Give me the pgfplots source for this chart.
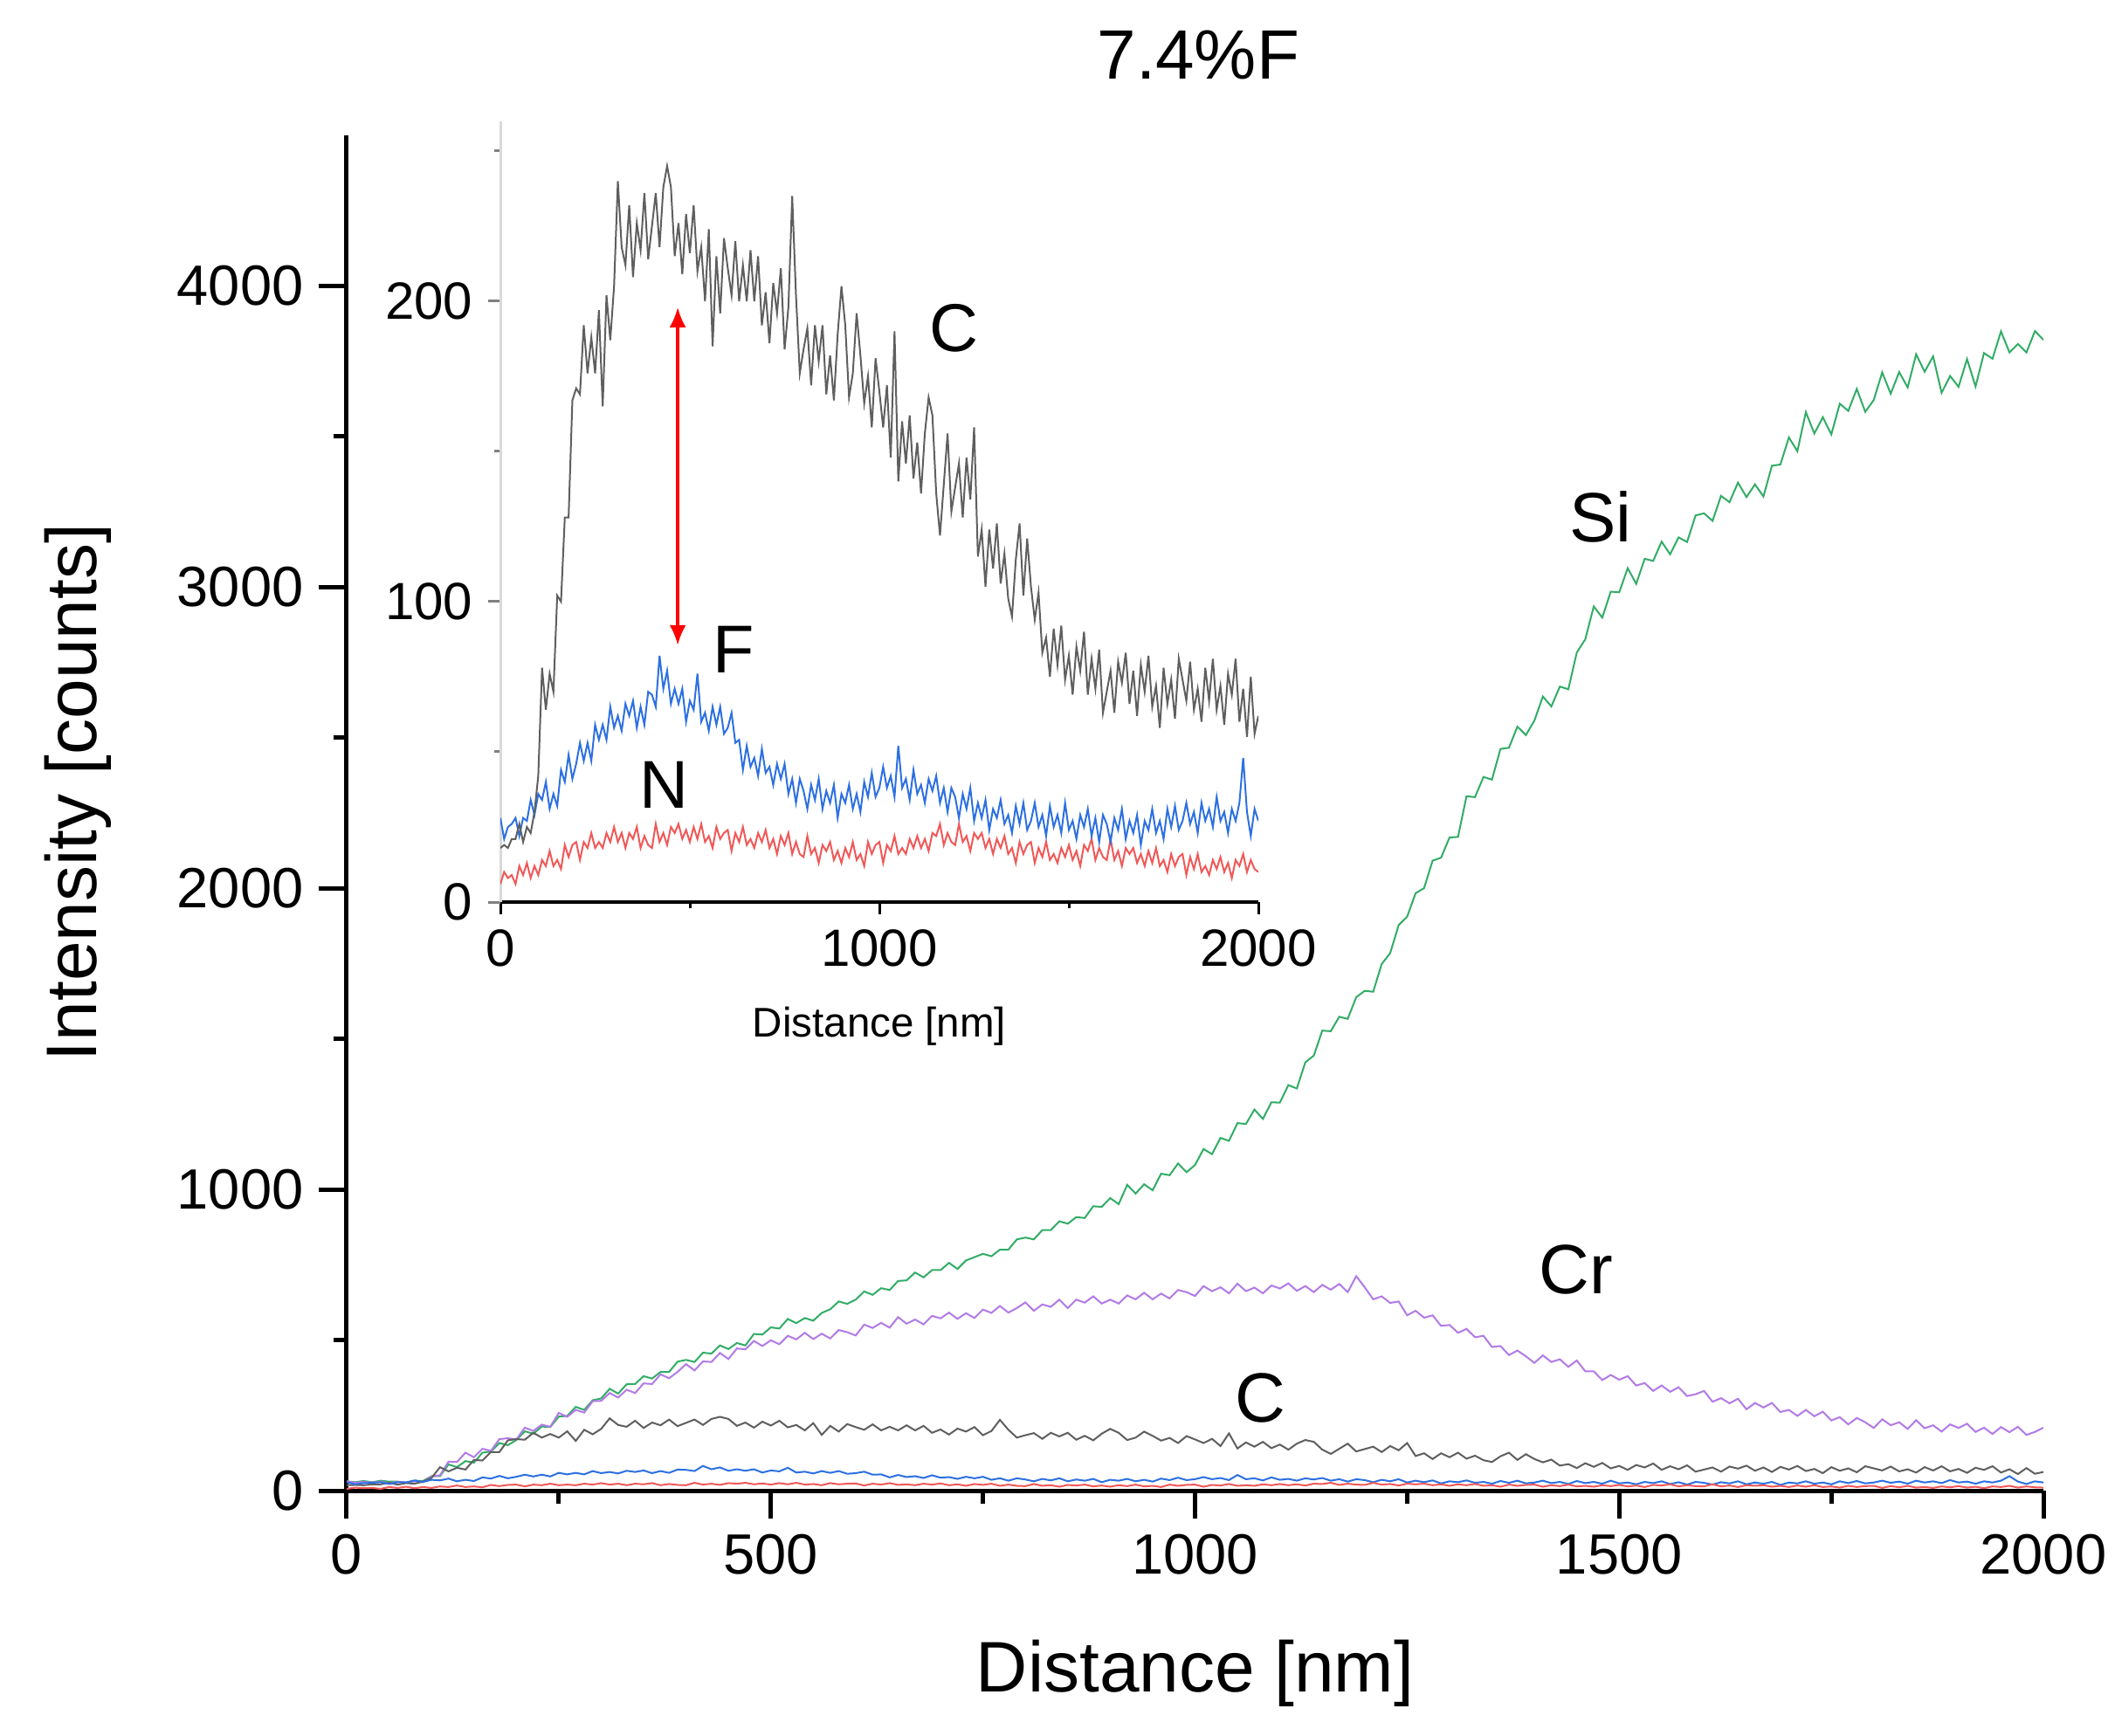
\documentclass[border=0pt]{standalone}
\usepackage{fontspec}
\setmainfont{Liberation Sans}
\usepackage{pgfplots}
\pgfplotsset{compat=1.18}
\usepackage{pgfplotstable}
\usetikzlibrary{arrows.meta}

\definecolor{siG}{RGB}{50,172,102}
\definecolor{crP}{RGB}{178,122,230}
\definecolor{cG}{RGB}{95,95,95}
\definecolor{fB}{RGB}{45,112,225}
\definecolor{nR}{RGB}{240,88,88}

\pgfplotstableread{
x Si Cr C F N
0 31 31 18 28 6
10 28 26 19 21 10
20 32 29 18 25 8
30 28 27 21 26 9
40 33 30 21 28 6
50 30 25 26 22 12
60 30 29 20 28 9
70 27 27 25 27 13
80 33 31 23 34 8
90 32 28 30 29 12
100 48 47 42 36 9
110 48 51 78 34 14
120 87 96 64 40 12
130 78 95 76 31 17
140 98 126 70 36 12
150 93 111 102 32 14
160 126 139 100 44 11
170 130 132 128 40 19
180 158 171 128 49 15
190 151 174 167 41 19
200 168 170 171 46 20
210 197 209 169 53 14
220 189 198 192 47 20
230 213 219 176 53 18
240 211 212 188 47 23
250 246 258 176 59 18
260 248 245 197 54 20
270 278 268 165 59 18
280 268 259 202 54 23
290 300 297 187 65 20
300 306 298 205 58 25
310 338 324 240 62 20
320 322 309 218 57 23
330 353 335 212 66 18
340 354 324 232 62 23
350 380 356 208 67 21
360 372 354 226 58 25
370 394 386 217 65 18
380 394 373 236 59 22
390 428 394 214 70 19
400 434 420 225 69 18
410 427 399 236 65 26
420 458 429 218 82 20
430 455 427 238 71 23
440 482 457 245 77 19
450 470 437 238 66 25
460 490 472 215 71 23
470 482 469 226 66 26
480 520 497 209 71 21
490 518 480 229 60 24
500 542 499 216 67 20
510 538 486 232 64 25
520 570 514 210 76 21
530 556 502 218 60 26
540 573 524 200 63 20
550 564 503 224 57 22
560 590 521 185 65 18
570 602 505 215 59 25
580 628 533 196 65 21
590 620 526 221 56 23
600 634 515 211 58 24
610 661 551 202 63 17
620 650 540 220 53 23
630 672 557 200 54 20
640 666 541 212 44 25
650 696 576 200 52 19
660 698 554 217 45 21
670 724 568 200 48 18
680 708 552 215 42 23
690 732 580 192 51 20
700 732 572 203 43 24
710 756 591 186 45 18
720 736 570 206 39 21
730 764 589 196 46 16
740 775 573 211 41 22
750 786 601 184 46 19
760 778 590 198 36 23
770 800 613 235 41 16
780 800 591 202 33 20
790 834 606 176 41 16
800 840 625 184 37 15
810 834 597 191 31 22
820 865 618 172 39 16
830 865 610 192 34 18
840 894 634 180 41 13
850 886 606 192 31 19
860 908 634 169 37 17
870 905 624 182 33 20
880 944 645 167 39 14
890 942 621 189 28 17
900 971 634 205 36 13
910 951 621 192 33 18
920 1015 648 168 39 15
930 986 635 176 31 20
940 1017 657 196 36 14
950 997 635 182 30 16
960 1052 654 166 40 12
970 1047 638 175 35 20
980 1086 666 158 43 16
990 1057 659 181 35 19
1000 1081 646 170 38 20
1010 1134 679 158 45 13
1020 1117 662 172 38 19
1030 1171 675 148 42 17
1040 1161 655 190 35 22
1050 1220 687 140 52 16
1060 1217 662 160 38 18
1070 1265 674 146 41 16
1080 1234 655 162 34 21
1090 1289 681 141 44 18
1100 1288 671 153 36 22
1110 1346 688 136 39 18
1120 1335 663 156 33 21
1130 1422 679 168 41 17
1140 1444 659 162 37 23
1150 1527 683 136 42 22
1160 1525 667 122 33 26
1170 1573 686 139 38 19
1180 1566 659 156 30 23
1190 1638 712 130 38 20
1200 1659 675 138 35 19
1210 1656 635 146 28 26
1220 1748 645 128 36 20
1230 1784 623 148 31 22
1240 1877 628 134 38 17
1250 1905 582 158 27 23
1260 1983 597 115 33 21
1270 2000 574 124 28 23
1280 2091 582 105 34 18
1290 2101 547 124 24 21
1300 2168 550 111 31 16
1310 2170 524 126 28 21
1320 2305 537 106 34 18
1330 2302 509 116 26 22
1340 2369 514 101 29 16
1350 2360 477 95 23 18
1360 2462 480 114 32 13
1370 2466 450 126 26 20
1380 2536 465 102 33 16
1390 2508 446 121 24 19
1400 2556 424 105 27 20
1410 2636 449 94 33 13
1420 2603 427 103 25 18
1430 2669 436 83 29 15
1440 2660 411 88 22 20
1450 2782 432 75 32 14
1460 2826 396 91 25 16
1470 2935 396 79 29 13
1480 2898 367 92 23 18
1490 2984 384 74 33 15
1500 2982 368 82 24 19
1510 3062 380 69 27 14
1520 3010 349 85 21 17
1530 3093 357 77 29 12
1540 3086 331 90 25 19
1550 3150 349 69 31 17
1560 3108 328 81 22 21
1570 3164 343 71 28 14
1580 3149 314 84 20 18
1590 3237 320 63 29 15
1600 3244 331 70 26 14
1610 3219 295 77 20 21
1620 3302 307 63 28 14
1630 3281 290 80 24 17
1640 3346 305 73 31 12
1650 3298 270 83 21 18
1660 3340 291 66 27 16
1670 3300 276 77 23 18
1680 3402 291 62 29 13
1690 3406 261 79 19 16
1700 3496 268 70 27 12
1710 3450 248 82 24 17
1720 3580 268 65 31 13
1730 3509 247 72 23 18
1740 3563 262 58 27 12
1750 3506 233 78 21 14
1760 3608 244 66 31 10
1770 3584 220 74 25 16
1780 3657 241 61 32 12
1790 3581 227 81 24 15
1800 3620 208 74 27 16
1810 3712 237 67 33 9
1820 3641 217 80 26 15
1830 3713 227 64 30 11
1840 3662 205 71 23 16
1850 3772 234 60 33 10
1860 3714 207 78 27 12
1870 3765 217 67 31 9
1880 3644 196 81 25 14
1890 3700 220 64 35 11
1900 3664 208 72 27 15
1910 3756 222 59 30 10
1920 3665 195 76 23 13
1930 3776 209 69 31 8
1940 3757 188 81 27 14
1950 3848 211 60 33 12
1960 3778 194 71 48 16
1970 3806 212 55 30 10
1980 3778 185 75 22 14
1990 3849 195 56 31 11
2000 3820 209 62 27 10
}\datatable

\begin{document}
\begin{tikzpicture}
\path[use as bounding box] (0,0) rectangle (484.4pt,397.4pt);
% main axis
\begin{axis}[
  at={(79.4pt,56pt)}, anchor=south west,
  scale only axis, width=388.6pt, height=310.5pt,
  xmin=0, xmax=2000, ymin=0, ymax=4500,
  axis lines=left, axis line style={-, line width=1pt, black},
  xtick={0,500,1000,1500,2000}, ytick={0,1000,2000,3000,4000},
  minor x tick num=1, minor y tick num=1,
  tick align=outside, major tick length=6.4pt, minor tick length=3pt,
  tick style={line width=1pt, black},
  tick label style={font=\fontsize{13}{15}\selectfont},
  /pgf/number format/assume math mode=true,
  /pgf/number format/1000 sep={},
  scaled ticks=false,
  xlabel={Distance [nm]}, ylabel={Intensity [counts]},
  label style={font=\fontsize{16.4}{19}\selectfont},
  xlabel style={at={(axis description cs:0.5,-0.135)}, anchor=center},
  ylabel style={at={(axis description cs:-0.1585,0.515)}, anchor=center},
  title={7.4\%F},
  title style={at={(axis description cs:0.502,1.0396)}, anchor=center, font=\fontsize{16}{19}\selectfont},
  every axis plot/.append style={line width=0.4pt, mark=none},
]
\addplot[siG] table[x=x,y=Si] {\datatable};
\addplot[crP] table[x=x,y=Cr] {\datatable};
\addplot[cG] table[x=x,y=C] {\datatable};
\addplot[fB] table[x=x,y=F] {\datatable};
\addplot[nR] table[x=x,y=N] {\datatable};
\node[font=\fontsize{16}{19}\selectfont] at (axis cs:1478,3232) {Si};
\node[font=\fontsize{16}{19}\selectfont] at (axis cs:1449,733) {Cr};
\node[font=\fontsize{16}{19}\selectfont] at (axis cs:1077,307) {C};
\end{axis}
% inset axis
\begin{axis}[
  at={(114.6pt,190.8pt)}, anchor=south west,
  scale only axis, width=173.6pt, height=178.9pt,
  xmin=0, xmax=2000, ymin=0, ymax=260,
  axis lines=left, axis line style={-},
  x axis line style={line width=0.8pt, black},
  y axis line style={line width=0.6pt, black!15},
  xtick={0,1000,2000}, minor xtick={500,1500},
  ytick={0,100,200}, minor ytick={50,150,250},
  tick align=outside, major tick length=2.8pt, minor tick length=1.4pt,
  xtick style={line width=0.6pt, black},
  ytick style={line width=0.6pt, black!50},
  tick label style={font=\fontsize{12}{14}\selectfont},
  /pgf/number format/assume math mode=true,
  /pgf/number format/1000 sep={},
  scaled ticks=false,
  xlabel={Distance [nm]},
  xlabel style={font=\fontsize{9.5}{11}\selectfont, at={(axis description cs:0.5,-0.159)}, anchor=center},
  every axis plot/.append style={line width=0.4pt, mark=none},
]
\addplot[nR] table[x=x,y=N] {\datatable};
\addplot[fB] table[x=x,y=F] {\datatable};
\addplot[cG] table[x=x,y=C] {\datatable};
\draw[red, line width=0.7pt, {Latex[length=4.6pt,width=3.8pt]}-{Latex[length=4.6pt,width=3.8pt]}] (axis cs:468,198) -- (axis cs:468,85.5);
\node[font=\fontsize{15.5}{18}\selectfont] at (axis cs:1196,191) {C};
\node[font=\fontsize{15.5}{18}\selectfont] at (axis cs:615,84) {F};
\node[font=\fontsize{15.5}{18}\selectfont] at (axis cs:431,39) {N};
\end{axis}
\end{tikzpicture}
\end{document}
